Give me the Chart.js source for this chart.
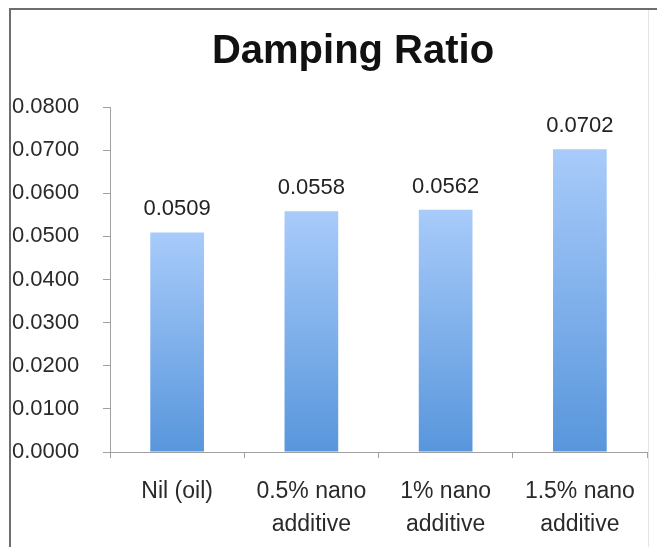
<!DOCTYPE html>
<html>
<head>
<meta charset="utf-8">
<script src="https://cdn.jsdelivr.net/npm/chart.js@4.4.1/dist/chart.umd.min.js"></script>
<style>
  html, body { margin: 0; padding: 0; background: #fff; }
  #wrap { width: 657px; height: 547px; position: relative; }
</style>
</head>
<body>
<div id="wrap"><canvas id="damping-chart"></canvas></div>
<script>
const categories = [["Nil (oil)"], ["0.5% nano", "additive"], ["1% nano", "additive"], ["1.5% nano", "additive"]];
const dampingRatio = [0.0509, 0.0558, 0.0562, 0.0702];
const yTicks = [0, 0.01, 0.02, 0.03, 0.04, 0.05, 0.06, 0.07, 0.08];
const chartTitle = "Damping Ratio";

const fmt4 = (v) => Number(v).toFixed(4);
const textFont = "'Liberation Sans', Arial, sans-serif";

// frame lines + title
const framePlugin = {
  id: "frame",
  beforeDraw(chart) {
    const { ctx, width, height } = chart;
    ctx.save();
    ctx.fillStyle = "#fff";
    ctx.fillRect(0, 0, width, height);
    ctx.strokeStyle = "#e4e4e4";
    ctx.lineWidth = 1;
    ctx.beginPath();
    ctx.moveTo(648.5, 10);
    ctx.lineTo(648.5, height);
    ctx.stroke();
    ctx.strokeStyle = "#6e6e6e";
    ctx.lineWidth = 2;
    ctx.beginPath();
    ctx.moveTo(width, 9);
    ctx.lineTo(10, 9);
    ctx.lineTo(10, height);
    ctx.stroke();
    ctx.fillStyle = "#111";
    ctx.font = `bold 40px ${textFont}`;
    ctx.textAlign = "center";
    ctx.textBaseline = "alphabetic";
    ctx.fillText(chartTitle, 353, 63);
    ctx.restore();
  },
};

// value labels over bars
const valueLabels = {
  id: "valueLabels",
  afterDatasetsDraw(chart) {
    const { ctx } = chart;
    const meta = chart.getDatasetMeta(0);
    ctx.save();
    ctx.fillStyle = "#222";
    ctx.font = `22px ${textFont}`;
    ctx.textAlign = "center";
    ctx.textBaseline = "alphabetic";
    meta.data.forEach((bar, i) => {
      ctx.fillText(fmt4(dampingRatio[i]), bar.x, bar.y - 17);
    });
    ctx.restore();
  },
};

function barGradient(context) {
  const chart = context.chart;
  const { chartArea, scales } = chart;
  if (!chartArea || !scales.y) return "#7fb0ea";
  const v = context.raw;
  const top = scales.y.getPixelForValue(v);
  const bottom = scales.y.getPixelForValue(0);
  if (!isFinite(top) || !isFinite(bottom) || top === bottom) return "#7fb0ea";
  const g = chart.ctx.createLinearGradient(0, top, 0, bottom);
  g.addColorStop(0, "#a8cbfa");
  g.addColorStop(1, "#5896dc");
  return g;
}

new Chart(document.getElementById("damping-chart"), {
  type: "bar",
  data: {
    labels: categories,
    datasets: [{
      label: chartTitle,
      data: dampingRatio,
      backgroundColor: barGradient,
      borderWidth: 0,
      categoryPercentage: 1,
      barPercentage: 0.4,
    }],
  },
  options: {
    responsive: true,
    maintainAspectRatio: false,
    animation: false,
    devicePixelRatio: 1,
    layout: { padding: { top: 107, left: 12, right: 10, bottom: 0 } },
    plugins: {
      legend: { display: false },
      title: { display: false },
      tooltip: { enabled: false },
    },
    scales: {
      x: {
        grid: {
          display: true,
          drawOnChartArea: false,
          drawTicks: true,
          tickLength: 6,
          color: "#a0a0a0",
          offset: true,
        },
        border: { display: true, color: "#a0a0a0", width: 1 },
        ticks: {
          color: "#2a2a2a",
          font: { family: textFont, size: 23, lineHeight: 1.4 },
          padding: 18,
          maxRotation: 0,
          autoSkip: false,
        },
        afterFit(scale) { scale.height = 95; },
      },
      y: {
        min: 0,
        max: 0.08,
        afterBuildTicks(scale) { scale.ticks = yTicks.map((v) => ({ value: v })); },
        grid: {
          display: true,
          drawOnChartArea: false,
          drawTicks: true,
          tickLength: 7,
          color: "#a0a0a0",
        },
        border: { display: true, color: "#a0a0a0", width: 1 },
        ticks: {
          color: "#2a2a2a",
          font: { family: textFont, size: 22 },
          crossAlign: "far",
          padding: 4,
          callback: (v) => fmt4(v),
        },
        afterFit(scale) { scale.width = 98; },
      },
    },
  },
  plugins: [framePlugin, valueLabels],
});
</script>
</body>
</html>
